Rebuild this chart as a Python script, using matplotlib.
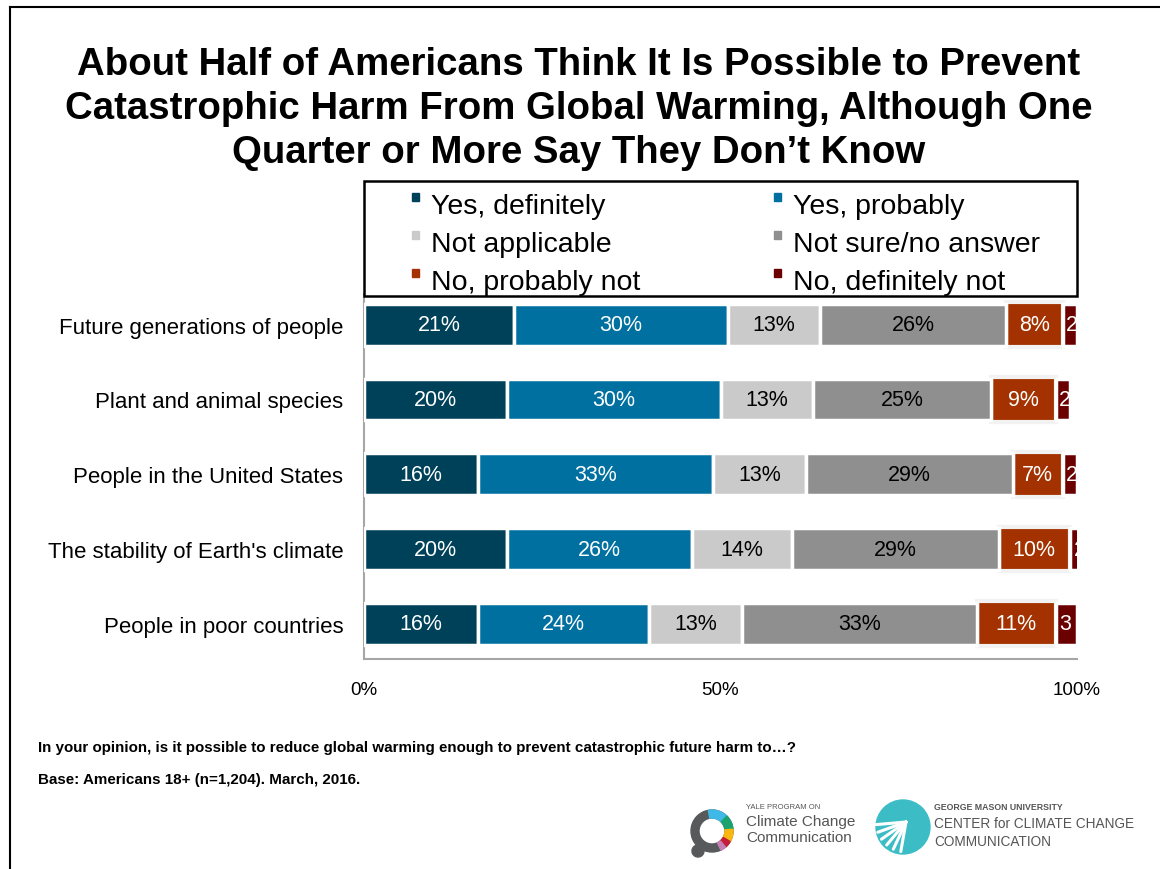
import numpy as np
import matplotlib.pyplot as plt
from matplotlib.patches import Rectangle, Wedge, Circle

plt.rcParams['font.family'] = ['Liberation Sans', 'DejaVu Sans']

# data
groups = ["Future generations of people", "Plant and animal species",
          "People in the United States", "The stability of Earth's climate",
          "People in poor countries"]
answers = ["Yes, definitely", "Yes, probably", "Not applicable",
           "Not sure/no answer", "No, probably not", "No, definitely not"]
yes_def = [21, 20, 16, 20, 16]
yes_prob = [30, 30, 33, 26, 24]
not_app = [13, 13, 13, 14, 13]
not_sure = [26, 25, 29, 29, 33]
no_prob = [8, 9, 7, 10, 11]
no_def = [2, 2, 2, 2, 3]
series = [yes_def, yes_prob, not_app, not_sure, no_prob, no_def]
colors = ["#00415a", "#0070a0", "#cacaca", "#8f8f8f", "#a33200", "#6a0000"]
text_colors = ["white", "white", "black", "black", "white", "white"]
bar_labels = [["%d%%" % v for v in s] for s in series[:5]] + [["%d" % v for v in no_def]]

W, H = 1160, 870
fig = plt.figure(figsize=(W / 100, H / 100), dpi=100)

# overlay in pixel coords for frame / logos
ov = fig.add_axes([0, 0, 1, 1], zorder=-1)
ov.set_xlim(0, W)
ov.set_ylim(H, 0)
ov.axis("off")
ov.plot([10, 10], [8, H + 5], color="black", lw=1.5)
ov.plot([10, W + 5], [8, 8], color="black", lw=1.5)

ax = fig.add_axes([364 / W, 1 - 660 / H, (1077 - 364) / W, (660 - 295) / H])
y = np.arange(len(groups))
left = np.zeros(len(groups))
for i, s in enumerate(series):
    vals = np.array(s, dtype=float)
    if i == 4:
        # light halo around the orange segments
        ax.barh(y, vals, left=left, height=0.6, color=colors[i],
                edgecolor="#f2f2f2", linewidth=3, zorder=2)
    else:
        ax.barh(y, vals, left=left, height=0.56, color=colors[i],
                edgecolor="white", linewidth=2.5, zorder=3)
    for j in range(len(groups)):
        cx = left[j] + vals[j] / 2
        if i == 5:
            cx = left[j] + 0.5
        ax.text(cx, y[j], bar_labels[i][j], ha="left" if i == 5 else "center",
                va="center", color=text_colors[i], fontsize=15.5, zorder=4)
    left += vals

ax.set_xlim(0, 100)
ax.set_ylim(4.47, -0.41)
ax.set_yticks(y)
ax.set_yticklabels(groups, fontsize=16)
ax.set_xticks([0, 50, 100])
ax.set_xticklabels(["0%", "50%", "100%"], fontsize=13.5)
ax.tick_params(length=0, axis="y", pad=15)
ax.tick_params(length=0, axis="x", pad=16)
for sp in ["top", "right"]:
    ax.spines[sp].set_visible(False)
for sp in ["left", "bottom"]:
    ax.spines[sp].set_color("#a6a6a6")
    ax.spines[sp].set_linewidth(1.5)

# title
fig.text(579 / W, 1 - 109 / H,
         "About Half of Americans Think It Is Possible to Prevent\n"
         "Catastrophic Harm From Global Warming, Although One\n"
         "Quarter or More Say They Don\u2019t Know",
         ha="center", va="center", fontsize=27.6, fontweight="bold", linespacing=1.3)

# legend on top overlay
top = fig.add_axes([0, 0, 1, 1], zorder=10)
top.set_xlim(0, W)
top.set_ylim(H, 0)
top.axis("off")
top.patch.set_alpha(0)
top.add_patch(Rectangle((364, 182), 713, 115, fill=False, edgecolor="black", lw=1.8))
col_x = [415, 777]
row_y = [206, 244, 282]
for k, name in enumerate(answers):
    r, c = k // 2, k % 2
    top.add_patch(Rectangle((col_x[c] - 3.5, row_y[r] - 12), 7, 8, color=colors[k]))
    top.text(col_x[c] + 16, row_y[r] + 1, name, fontsize=20.5, va="center", ha="left")

# footnotes
fig.text(38 / W, 1 - 748 / H,
         "In your opinion, is it possible to reduce global warming enough to prevent catastrophic future harm to\u2026?",
         fontsize=10.9, fontweight="bold", va="center")
fig.text(38 / W, 1 - 780 / H, "Base: Americans 18+ (n=1,204). March, 2016.",
         fontsize=10.9, fontweight="bold", va="center")

# Yale logo
cx, cy, R = 712, 832, 21
ov.add_patch(Wedge((cx, cy), R, 0, 360, width=8, color="#58595b"))
segs = [(45, 100, "#3fb9e8"), (5, 45, "#1aa36e"), (-30, 5, "#f9b70f"),
        (-50, -30, "#c41e3a"), (-65, -50, "#c57eb8")]
for a0, a1, col in segs:
    ov.add_patch(Wedge((cx, cy), R, -a1, -a0, width=8, color=col))
ov.add_patch(Wedge((cx - 14, cy + 20), 6, 0, 360, color="#58595b"))
ov.text(746, 808, "YALE PROGRAM ON", fontsize=5.5, color="#555555", va="center")
ov.text(746, 822, "Climate Change", fontsize=11, color="#555555", va="center")
ov.text(746, 838, "Communication", fontsize=11, color="#555555", va="center")

# GMU logo
gx, gy = 903, 828
ov.add_patch(Circle((gx, gy), 27, color="#3cbdc6"))
for ang in [185, 200, 215, 230, 245, 260]:
    t = np.deg2rad(ang)
    ov.plot([gx + 3, gx + 3 + 30 * np.cos(t)], [gy - 5, gy - 5 - 30 * np.sin(t)],
            color="white", lw=2.2, solid_capstyle="round")
ov.text(934, 808, "GEORGE MASON UNIVERSITY", fontsize=6.3, color="#555555", va="center", fontweight="bold")
ov.text(934, 824, "CENTER for CLIMATE CHANGE", fontsize=9.8, color="#555555", va="center")
ov.text(934, 842, "COMMUNICATION", fontsize=9.8, color="#555555", va="center")

fig.savefig("out.png", dpi=100)
